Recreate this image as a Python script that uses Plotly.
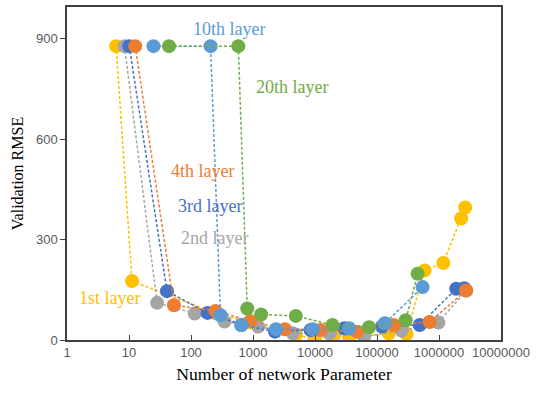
import plotly.graph_objects as go

# Validation RMSE against network size for different layer depths
x_1st = [6.2, 11.2, 250, 900, 4900, 9900, 20500, 35700, 155000, 300000, 585000, 1175000, 2280000, 2640000]
y_1st = [878, 176, 80, 52, 15, 5, 15, 6, 20, 18, 208, 230, 363, 396]

x_2nd = [8.45, 28.4, 115, 347, 1211, 4385, 17100, 62000, 251000, 978000, 2740000]
y_2nd = [878, 111, 79, 55, 40, 20, 20, 10, 28, 52, 148]

x_3rd = [10.1, 41, 185, 648, 2263, 8510, 29700, 120000, 487000, 1897000, 2545000]
y_3rd = [878, 146, 81, 45, 25, 30, 35, 40, 45, 153, 155]

x_4th = [12.6, 53.1, 249, 902, 3270, 12280, 47900, 187000, 703000, 2740000]
y_4th = [878, 104, 87, 57, 32, 30, 25, 45, 54, 148]

x_10th = [24.8, 207, 299, 650, 2350, 9160, 35500, 134000, 543000]
y_10th = [878, 878, 74, 45, 32, 32, 35, 50, 158]

x_20th = [44.2, 580, 808, 1352, 4900, 19100, 74500, 290000, 452000]
y_20th = [878, 878, 94, 76, 72, 45, 38, 59, 198]

series = [
    ("1st layer", x_1st, y_1st, "#FFC000"),
    ("2nd layer", x_2nd, y_2nd, "#A5A5A5"),
    ("3rd layer", x_3rd, y_3rd, "#4472C4"),
    ("4th layer", x_4th, y_4th, "#ED7D31"),
    ("10th layer", x_10th, y_10th, "#5B9BD5"),
    ("20th layer", x_20th, y_20th, "#70AD47"),
]

x_ticks = [1, 10, 100, 1000, 10000, 100000, 1000000, 10000000]
y_ticks = [0, 300, 600, 900]

fig = go.Figure()
for name, xs, ys, color in series:
    fig.add_trace(go.Scatter(
        x=xs, y=ys, name=name, mode="lines+markers",
        line=dict(color=color, width=1.5, dash="3px,2px"),
        marker=dict(color=color, size=14, line=dict(width=0)),
        showlegend=False,
    ))

# Series labels placed beside their curves
labels = [
    ("10th layer", 0.373, 0.934, "#5B9BD5"),
    ("20th layer", 0.518, 0.761, "#70AD47"),
    ("4th layer", 0.313, 0.507, "#ED7D31"),
    ("3rd layer", 0.330, 0.403, "#4472C4"),
    ("2nd layer", 0.341, 0.307, "#A5A5A5"),
    ("1st layer", 0.097, 0.125, "#FFC000"),
]
for text, px, py, color in labels:
    fig.add_annotation(
        x=px, y=py, xref="paper", yref="paper", text=text, showarrow=False,
        font=dict(family="Liberation Serif", size=18, color=color),
        xanchor="center", yanchor="middle",
    )

axis_line = "#404040"
fig.update_xaxes(
    type="log", range=[0, 7], tickvals=x_ticks, ticktext=[str(v) for v in x_ticks],
    showgrid=False, zeroline=False, showline=True, linecolor=axis_line, linewidth=1.5,
    mirror=True, ticks="inside", ticklen=5, tickcolor=axis_line,
    tickfont=dict(family="Liberation Sans", size=13, color="#595959"),
    title=dict(text="Number of network Parameter", standoff=8,
               font=dict(family="Liberation Serif", size=17.7, color="#000000")),
)
fig.update_yaxes(
    range=[0, 995], tickvals=y_ticks,
    showgrid=False, zeroline=False, showline=True, linecolor=axis_line, linewidth=1.5,
    mirror=True, ticks="outside", ticklen=5, tickcolor=axis_line,
    tickfont=dict(family="Liberation Sans", size=13, color="#595959"),
    title=dict(text="Validation RMSE", standoff=8,
               font=dict(family="Liberation Serif", size=16, color="#000000")),
)
fig.update_layout(
    width=539, height=394,
    margin=dict(l=67, r=38, t=5, b=54),
    plot_bgcolor="white", paper_bgcolor="white",
)

fig.write_html("out.html")
